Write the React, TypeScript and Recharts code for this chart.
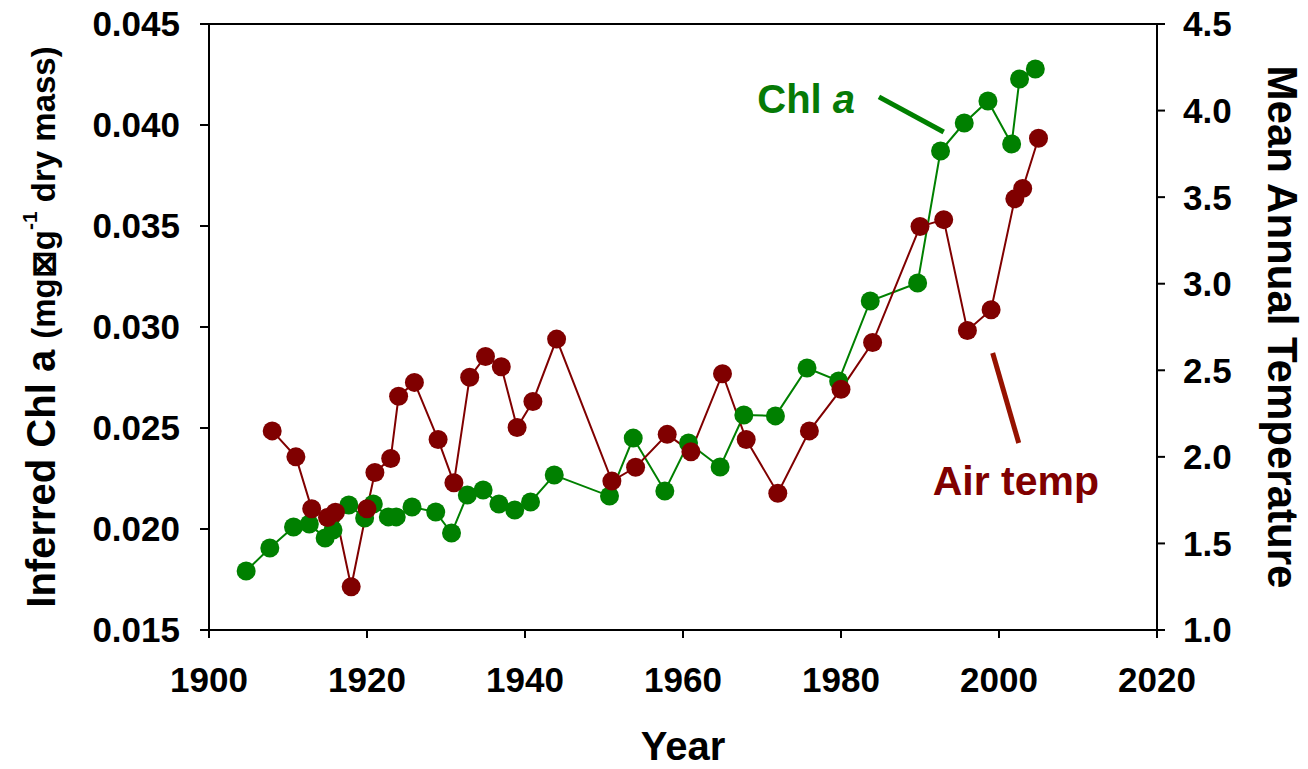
import React from 'react';
import { LineChart, Line, XAxis, YAxis, ReferenceLine, ReferenceDot } from 'recharts';

// Chl a series (left axis)
const chlYears = [1904.7, 1907.7, 1910.7, 1912.7, 1914.7, 1915.7, 1917.7, 1919.7, 1920.8, 1922.7, 1923.7, 1925.7, 1928.7, 1930.7, 1932.7, 1934.7, 1936.7, 1938.7, 1940.7, 1943.7, 1950.7, 1953.7, 1957.7, 1960.7, 1964.7, 1967.7, 1971.7, 1975.7, 1979.7, 1983.7, 1989.7, 1992.6, 1995.6, 1998.6, 2001.6, 2002.6, 2004.6];
const chlValues = [0.01792, 0.01906, 0.0201, 0.02025, 0.01955, 0.01995, 0.02119, 0.02054, 0.02124, 0.0206, 0.0206, 0.02109, 0.02084, 0.0198, 0.02168, 0.02193, 0.02124, 0.02094, 0.02134, 0.02267, 0.02163, 0.0245, 0.02188, 0.02426, 0.02307, 0.02564, 0.0256, 0.02797, 0.02733, 0.03129, 0.03218, 0.03871, 0.0401, 0.04119, 0.03906, 0.04228, 0.04277];

// Air temperature series (right axis)
const tempYears = [1908, 1911, 1913, 1915, 1916, 1918, 1920, 1921, 1923, 1924, 1926, 1929, 1931, 1933, 1935, 1937, 1939, 1941, 1944, 1951, 1954, 1958, 1961, 1965, 1968, 1972, 1976, 1980, 1984, 1990, 1993, 1996, 1999, 2002, 2003, 2005];
const tempValues = [2.15, 2.0, 1.7, 1.65, 1.68, 1.25, 1.7, 1.91, 1.99, 2.35, 2.43, 2.1, 1.85, 2.46, 2.58, 2.52, 2.17, 2.32, 2.68, 1.86, 1.94, 2.13, 2.03, 2.48, 2.1, 1.79, 2.15, 2.39, 2.66, 3.33, 3.37, 2.73, 2.85, 3.49, 3.55, 3.84];

// Axis ticks
const xTicks = [1900, 1920, 1940, 1960, 1980, 2000, 2020];
const leftTicks = [0.015, 0.02, 0.025, 0.03, 0.035, 0.04, 0.045];
const rightTicks = [1.0, 1.5, 2.0, 2.5, 3.0, 3.5, 4.0, 4.5];

// Annotation anchors (data coordinates, left axis)
const chlLabelPos = { x: 1969.4, y: 0.04059 };
const chlPointer = [{ x: 1984.8, y: 0.04139 }, { x: 1993.0, y: 0.03965 }];
const airLabelPos = { x: 1991.6, y: 0.02168 };
const airPointer = [{ x: 1999.2, y: 0.02871 }, { x: 2002.5, y: 0.02426 }];

const chlData = chlYears.map((year, i) => ({ year, chl: chlValues[i] }));
const tempData = tempYears.map((year, i) => ({ year, temp: tempValues[i] }));

const FONT = '"Liberation Sans", Arial, Helvetica, sans-serif';
const GREEN = '#008000';
const RED = '#800000';

const tickStyle = { fill: '#000', fontSize: 35, fontWeight: 700, fontFamily: FONT };

const LeftTitle = (props: any) => {
  const vb = props.viewBox || { x: 0, y: 24, width: 209, height: 606 };
  const cx = vb.x + 55;
  const cy = vb.y + vb.height / 2;
  return (
    <text
      x={cx}
      y={cy}
      transform={`rotate(-90, ${cx}, ${cy})`}
      textAnchor="middle"
      fontFamily={FONT}
      fontWeight={700}
      fill="#000"
    >
      <tspan fontSize={40}>Inferred Chl a </tspan>
      <tspan fontSize={33}>(mg⊠g</tspan>
      <tspan fontSize={21} dy={-18}>-1</tspan>
      <tspan fontSize={33} dy={18}> dry mass)</tspan>
    </text>
  );
};

const RightTitle = (props: any) => {
  const vb = props.viewBox || { x: 1157, y: 24, width: 151, height: 606 };
  const cx = vb.x + 111;
  const cy = vb.y + vb.height / 2;
  return (
    <text
      x={cx}
      y={cy}
      transform={`rotate(90, ${cx}, ${cy})`}
      textAnchor="middle"
      fontFamily={FONT}
      fontWeight={700}
      fontSize={42}
      fill="#000"
    >
      Mean Annual Temperature
    </text>
  );
};

const XTitle = (props: any) => {
  const vb = props.viewBox || { x: 209, y: 630, width: 948, height: 139 };
  return (
    <text
      x={vb.x + vb.width / 2}
      y={vb.y + 130}
      textAnchor="middle"
      fontFamily={FONT}
      fontWeight={700}
      fontSize={40}
      fill="#000"
    >
      Year
    </text>
  );
};

const ChlLabel = (props: any) => {
  const vb = props.viewBox;
  if (!vb) return null;
  return (
    <text x={vb.x + 1} y={vb.y + 1} fontFamily={FONT} fontWeight={700} fontSize={40} fill="#067a06">
      Chl <tspan fontStyle="italic">a</tspan>
    </text>
  );
};

const AirLabel = (props: any) => {
  const vb = props.viewBox;
  if (!vb) return null;
  return (
    <text x={vb.x + 1} y={vb.y + 1} fontFamily={FONT} fontWeight={700} fontSize={41} fill={RED}>
      Air temp
    </text>
  );
};

export default function App() {
  return (
    <div style={{ position: 'absolute', left: 0, top: 0, width: 1308, height: 769, background: '#fff' }}>
      <LineChart width={1308} height={769} margin={{ top: 24, right: 0, bottom: 0, left: 0 }}>
        <XAxis
          dataKey="year"
          type="number"
          domain={[1900, 2020]}
          ticks={xTicks}
          allowDataOverflow
          height={139}
          tickSize={8}
          tickMargin={29}
          tick={tickStyle}
          axisLine={{ stroke: '#000', strokeWidth: 2 }}
          tickLine={{ stroke: '#000', strokeWidth: 2 }}
          label={<XTitle />}
        />
        <YAxis
          yAxisId="left"
          type="number"
          domain={[0.015, 0.045]}
          ticks={leftTicks}
          allowDataOverflow
          width={209}
          tickSize={9}
          tickMargin={20}
          tick={tickStyle}
          tickFormatter={(v: number) => v.toFixed(3)}
          axisLine={{ stroke: '#000', strokeWidth: 2 }}
          tickLine={{ stroke: '#000', strokeWidth: 2 }}
          label={<LeftTitle />}
        />
        <YAxis
          yAxisId="right"
          orientation="right"
          type="number"
          domain={[1.0, 4.5]}
          ticks={rightTicks}
          allowDataOverflow
          width={151}
          tickSize={8}
          tickMargin={18}
          tick={tickStyle}
          tickFormatter={(v: number) => v.toFixed(1)}
          axisLine={{ stroke: '#000', strokeWidth: 2 }}
          tickLine={{ stroke: '#000', strokeWidth: 2 }}
          label={<RightTitle />}
        />
        <ReferenceLine yAxisId="left" y={0.045} stroke="#000" strokeWidth={2} />
        <Line
          yAxisId="left"
          data={chlData}
          dataKey="chl"
          stroke={GREEN}
          strokeWidth={2}
          dot={{ r: 9.5, fill: GREEN, stroke: 'none', strokeWidth: 0 }}
          activeDot={false}
          isAnimationActive={false}
        />
        <Line
          yAxisId="right"
          data={tempData}
          dataKey="temp"
          stroke={RED}
          strokeWidth={2}
          dot={{ r: 9.5, fill: RED, stroke: 'none', strokeWidth: 0 }}
          activeDot={false}
          isAnimationActive={false}
        />
        <ReferenceLine yAxisId="left" segment={chlPointer} stroke={GREEN} strokeWidth={5} />
        <ReferenceLine yAxisId="left" segment={airPointer} stroke="#961200" strokeWidth={5} />
        <ReferenceDot yAxisId="left" x={chlLabelPos.x} y={chlLabelPos.y} r={1} fill="none" stroke="none" label={<ChlLabel />} />
        <ReferenceDot yAxisId="left" x={airLabelPos.x} y={airLabelPos.y} r={1} fill="none" stroke="none" label={<AirLabel />} />
      </LineChart>
    </div>
  );
}
